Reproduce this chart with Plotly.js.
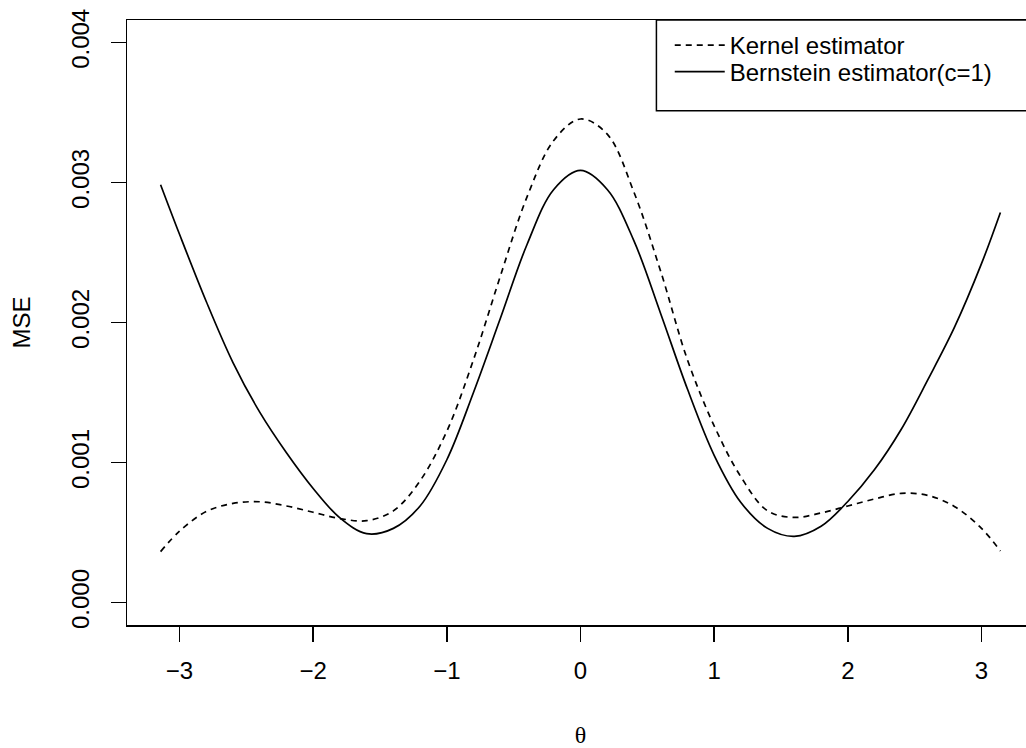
<!DOCTYPE html>
<html>
<head>
<meta charset="utf-8">
<script src="https://cdn.plot.ly/plotly-3.0.1.min.js"></script>
<style>
html, body { margin: 0; padding: 0; overflow: hidden; background: #fff; }
#chart { width: 1060px; height: 748px; }
</style>
</head>
<body>
<div id="chart"></div>
<script>
// theta grid (radians)
var theta = [-3.1416, -3.0, -2.8, -2.6, -2.4, -2.2, -2.0, -1.8, -1.6, -1.4, -1.2, -1.0, -0.8, -0.6, -0.4, -0.2, 0,
             0.2, 0.4, 0.6, 0.8, 1.0, 1.2, 1.4, 1.6, 1.8, 2.0, 2.2, 2.4, 2.6, 2.8, 3.0, 3.1416];
// MSE of kernel estimator (dashed)
var kernelMSE = [0.000364, 0.000510, 0.000650, 0.000708, 0.000720, 0.000690, 0.000645, 0.000600, 0.000585, 0.000655,
                 0.000870, 0.001224, 0.001736, 0.002330, 0.002897, 0.003300, 0.003453,
                 0.003345, 0.002930, 0.002365, 0.001734, 0.001262, 0.000898, 0.000655, 0.000608, 0.000640,
                 0.000690, 0.000740, 0.000780, 0.000765, 0.000685, 0.000530, 0.000369];
// MSE of Bernstein estimator, c=1 (solid)
var bernsteinMSE = [0.002984, 0.002630, 0.002150, 0.001714, 0.001360, 0.001070, 0.000815, 0.000605, 0.000492, 0.000530,
                    0.000690, 0.001020, 0.001502, 0.002028, 0.002557, 0.002950, 0.003086,
                    0.002950, 0.002583, 0.002063, 0.001525, 0.001052, 0.000715, 0.000530, 0.000473, 0.000545,
                    0.000722, 0.000950, 0.001238, 0.001594, 0.001970, 0.002420, 0.002786];
var seriesNames = ["Kernel estimator", "Bernstein estimator(c=1)"];
var xTicks = [-3, -2, -1, 0, 1, 2, 3];
var yTicks = [0, 0.001, 0.002, 0.003, 0.004];

var FONT = "Liberation Sans, Arial, Helvetica, sans-serif";

var traces = [
  {x: theta, y: kernelMSE, name: seriesNames[0], type: "scatter", mode: "lines", legend: "legend",
   line: {color: "#000", width: 1.7, dash: "6px,5px", shape: "spline", smoothing: 1}},
  {x: theta, y: bernsteinMSE, name: seriesNames[1], type: "scatter", mode: "lines", legend: "legend2",
   line: {color: "#000", width: 1.7, shape: "spline", smoothing: 1}}
];

var legendBase = {xanchor: "left", yanchor: "middle", borderwidth: 0, bgcolor: "rgba(0,0,0,0)",
                  font: {family: FONT, size: 24, color: "#000"}, itemwidth: 50};

var layout = {
  width: 1060, height: 748,
  margin: {l: 127, r: 26, t: 20, b: 123},
  paper_bgcolor: "#fff", plot_bgcolor: "#fff",
  font: {family: FONT, size: 24, color: "#000"},
  showlegend: true,
  legend: Object.assign({x: 0.5984, y: 0.9579}, legendBase),
  legend2: Object.assign({x: 0.5984, y: 0.9140}, legendBase),
  shapes: [{type: "rect", xref: "paper", yref: "paper", x0: 0.5837, x1: 1.2, y0: 0.8501, y1: 1,
            line: {color: "#000", width: 1.5}, fillcolor: "rgba(0,0,0,0)", layer: "above"}],
  xaxis: {
    range: [-3.1416 * 1.08, 3.1416 * 1.08], tickvals: xTicks,
    ticktext: xTicks.map(function(v){return v < 0 ? "\u2212" + Math.abs(v) : String(v);}),
    ticks: "outside", ticklen: 15, tickwidth: 1.5, tickcolor: "#000", ticklabelstandoff: 9,
    showline: true, linecolor: "#000", linewidth: 1.5, mirror: true,
    showgrid: false, zeroline: false, automargin: false,
    tickfont: {family: FONT, size: 24},
    title: {text: "\u03b8", font: {family: "Liberation Serif, DejaVu Serif, serif", size: 24}, standoff: 46}
  },
  yaxis: {
    range: [-0.00016, 0.00416], tickvals: yTicks, ticktext: yTicks.map(function(v){return v.toFixed(3);}),
    ticks: "outside", ticklen: 15, tickwidth: 1.5, tickcolor: "#000", tickangle: -90, ticklabelstandoff: 12,
    showline: true, linecolor: "#000", linewidth: 1.5, mirror: true,
    showgrid: false, zeroline: false, automargin: false,
    tickfont: {family: FONT, size: 24},
    title: {text: "MSE", font: {family: FONT, size: 24}, standoff: 29}
  }
};

Plotly.newPlot("chart", traces, layout, {displayModeBar: false, staticPlot: true});
</script>
</body>
</html>
